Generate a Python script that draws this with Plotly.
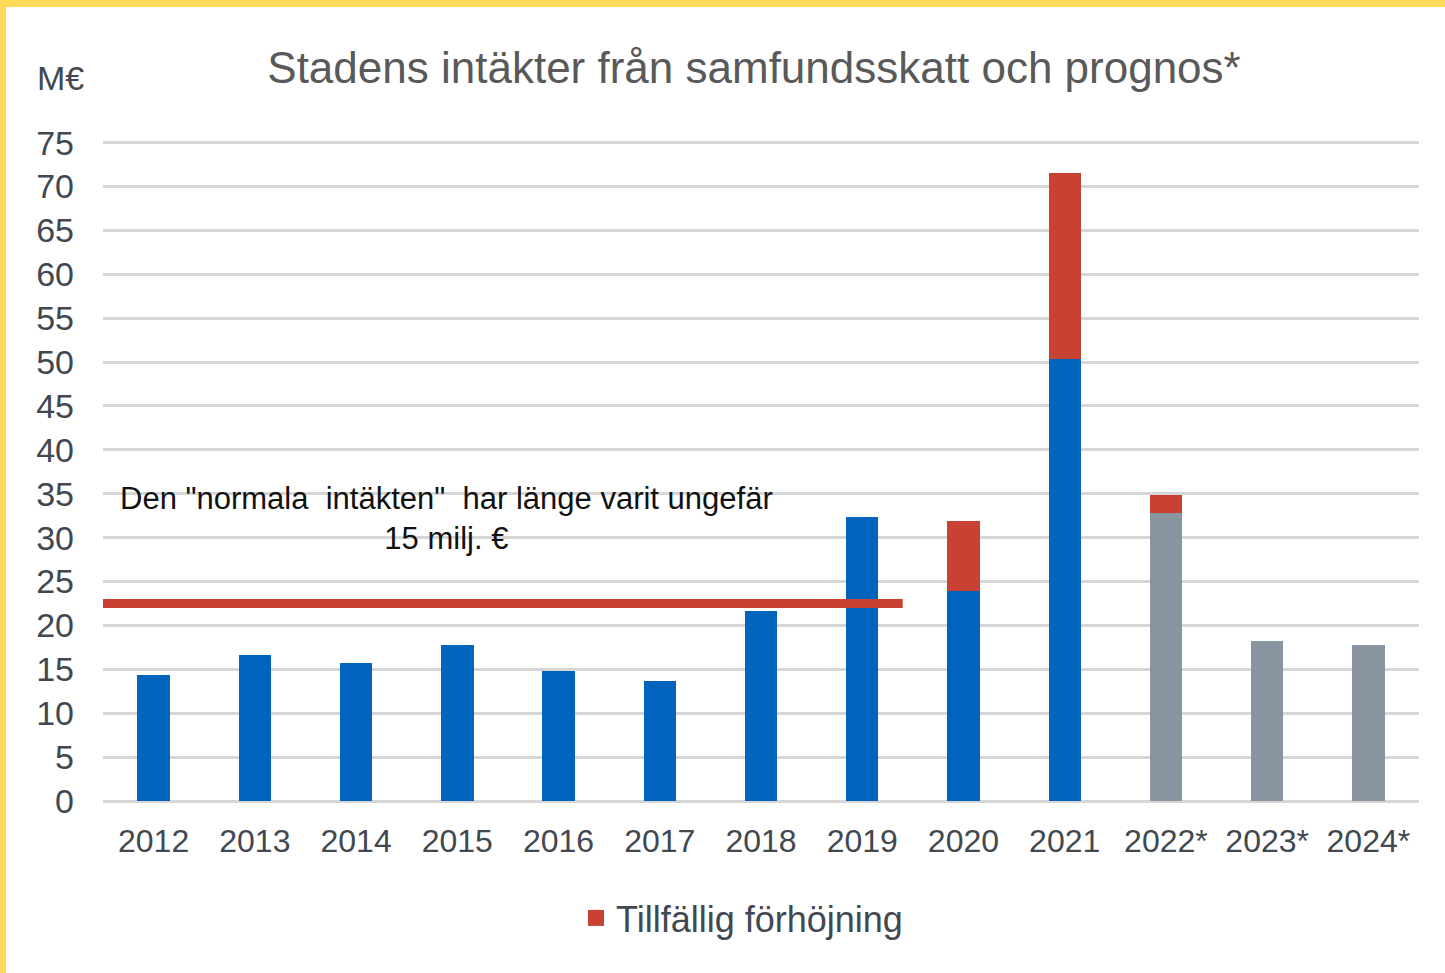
import plotly.graph_objects as go

years = ["2012", "2013", "2014", "2015", "2016", "2017", "2018", "2019",
         "2020", "2021", "2022*", "2023*", "2024*"]
actual = [14.4, 16.6, 15.7, 17.8, 14.8, 13.7, 21.7, 32.4, 23.9, 50.4, None, None, None]
forecast = [None, None, None, None, None, None, None, None, None, None, 32.8, 18.2, 17.8]
temporary = [None, None, None, None, None, None, None, None, 8.0, 21.1, 2.1, None, None]
normal_level = 22.5
y_ticks = list(range(0, 80, 5))

BLUE = "#0064BF"
GREY = "#8995A0"
RED = "#C84133"
YELLOW = "#FFD957"
TXT = "#414850"
FONT = "Liberation Sans, Arial, sans-serif"

W, H = 1445, 973
L, R, T, B = 103, 26, 140, 172
pw, ph = W - L - R, H - T - B
YMAX = 75.3

fig = go.Figure()
fig.add_trace(go.Bar(x=years, y=actual, marker=dict(color=BLUE, line_width=0),
                     width=0.32, showlegend=False, name="Utfall"))
fig.add_trace(go.Bar(x=years, y=forecast, marker=dict(color=GREY, line_width=0),
                     width=0.32, showlegend=False, name="Prognos"))
fig.add_trace(go.Bar(x=years, y=temporary, marker=dict(color=RED, line_width=0),
                     width=0.32, showlegend=False, name="Tillfällig förhöjning",
                     legendgroup="temp"))
# legend entry with a larger square symbol
fig.add_trace(go.Scatter(x=[years[0]], y=[None], mode="markers",
                         marker=dict(symbol="square", size=18, color=RED),
                         name="Tillfällig förhöjning", legendgroup="temp",
                         showlegend=True, hoverinfo="skip"))

def px_x(p):
    return (p - L) / pw

def px_y(p):
    return (H - B - p) / ph

shapes = [
    dict(type="line", xref="x", yref="y", x0=-0.5, x1=7.4, y0=normal_level, y1=normal_level,
         line=dict(color=RED, width=9), layer="above"),
    # yellow frame top and left
    dict(type="rect", xref="paper", yref="paper", x0=px_x(0), x1=px_x(W), y0=px_y(7), y1=px_y(0),
         fillcolor=YELLOW, line_width=0, layer="above"),
    dict(type="rect", xref="paper", yref="paper", x0=px_x(0), x1=px_x(6), y0=px_y(H), y1=px_y(0),
         fillcolor=YELLOW, line_width=0, layer="above"),
]

annotations = [
    dict(text="Den \"normala  intäkten\"  har länge varit ungefär<br>15 milj. €",
         xref="paper", yref="paper", x=px_x(446), y=px_y(518), showarrow=False,
         font=dict(family=FONT, size=31, color="#111111"), align="center",
         xanchor="center", yanchor="middle"),
    dict(text="M€", xref="paper", yref="paper", x=px_x(60), y=px_y(78), showarrow=False,
         font=dict(family=FONT, size=34, color=TXT), xanchor="center", yanchor="middle"),
]

fig.update_layout(
    width=W, height=H,
    margin=dict(l=L, r=R, t=T, b=B, pad=0),
    paper_bgcolor="white", plot_bgcolor="white",
    barmode="stack",
    title=dict(text="Stadens intäkter från samfundsskatt och prognos*",
               x=754 / W, y=1 - 68 / H, xanchor="center", yanchor="middle",
               font=dict(family=FONT, size=44, color="#595959")),
    xaxis=dict(type="category", showgrid=False, showline=False, ticks="",
               tickfont=dict(family=FONT, size=32, color=TXT), ticklabelstandoff=18,
               range=[-0.5, 12.5]),
    yaxis=dict(range=[0, YMAX], tickvals=y_ticks, showgrid=True, gridcolor="#D6D6D6", gridwidth=3,
               zeroline=True, zerolinecolor="#D6D6D6", zerolinewidth=3, showline=False, ticks="",
               tickfont=dict(family=FONT, size=34, color=TXT), ticklabelstandoff=28),
    legend=dict(orientation="h", x=px_x(742), y=px_y(918), xanchor="center", yanchor="middle",
                font=dict(family=FONT, size=36, color=TXT), bgcolor="rgba(0,0,0,0)",
                itemsizing="trace"),
    shapes=shapes,
    annotations=annotations,
)

fig.write_html("out.html", config={"displayModeBar": False},
               post_script="document.body.style.margin='0px';")
